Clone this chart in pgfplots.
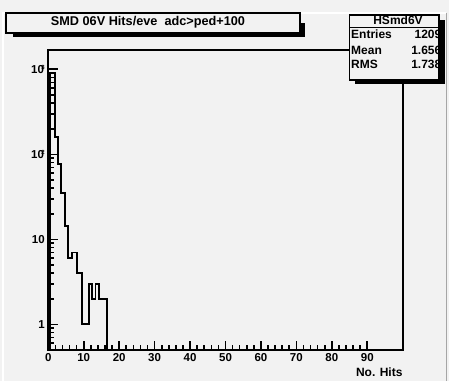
\documentclass[border=0pt]{standalone}
\usepackage{fontspec}
\setmainfont{Liberation Sans}
\usepackage{pgfplots}
\pgfplotsset{compat=1.18}
\definecolor{padgray}{RGB}{242,242,242}

% ROOT style decade label: 10 with a squeezed exponent
\newcommand{\dec}[1]{10\kern-2.5pt\raisebox{3.5pt}{\fontsize{6}{6}\selectfont #1}}

\begin{document}
\begin{tikzpicture}
  % pad
  \begin{scope}[x=1pt,y=1pt]
    \fill[padgray] (0,0) rectangle (449,381);
    \draw[white, line width=1.2pt] (3,0) -- (3,368) -- (446,368);
    \draw[gray!70, line width=1.2pt] (446.5,0) -- (446.5,368);
  \end{scope}

  \begin{axis}[
      at={(48.3pt,31pt)}, anchor=south west,
      scale only axis, width=354.4pt, height=300pt,
      ymode=log,
      xmin=0, xmax=100, ymin=0.5, ymax=1687,
      axis line style={line width=1.8pt},
      tick align=inside,
      xtick pos=bottom, ytick pos=left,
      xtick={0,10,...,90},
      xticklabels={0,10,20,30,40,50,60,70,80,90},
      minor x tick num=4,
      ytick={1,10,100,1000},
      yticklabels={1,10,\dec{2},\dec{3}},
      minor ytick={0.6,0.7,0.8,0.9,2,3,4,5,6,7,8,9,20,30,40,50,60,70,80,90,200,300,400,500,600,700,800,900},
      major tick length=9.5pt, minor tick length=5.5pt,
      tick style={black, line width=1.6pt},
      tick label style={font=\fontsize{11.5}{13}\selectfont\bfseries},
      xlabel={No. Hits},
      xlabel style={at={(axis description cs:1,0)}, anchor=north east,
        inner sep=0pt, yshift=-17.4pt, font=\fontsize{12}{14}\selectfont\bfseries},
    ]
    \addplot[black, line width=1.9pt, const plot mark left] coordinates {
        (0.48,0.1) (0.48,912) (1.88,158) (2.64,77) (3.49,35) (4.70,14.3)
        (5.54,6.1) (6.58,7) (7.99,4) (9.40,1) (11.53,3) (12.38,2)
        (13.33,3) (14.35,2) (16.6,0.1)
      };
  \end{axis}

  \begin{scope}[x=1pt,y=1pt]
    % title box
    \fill[black] (13,344.3) rectangle (305,358.3);
    \filldraw[fill=padgray, draw=black, line width=1.3pt] (6,348) rectangle (300,368);
    \node at (148,359) {\fontsize{12.7}{14}\selectfont\bfseries SMD 06V Hits/eve\ \ adc>ped+100};

    % stats box
    \fill[black] (355,297.5) rectangle (445,361);
    \filldraw[fill=padgray, draw=black, line width=1.3pt] (349.5,301) rectangle (439,366);
    \draw[line width=1.3pt] (349.5,353.3) -- (439,353.3);
    \begin{scope}
      \clip (349.5,301) rectangle (438.3,366);
      \node at (398,360.5) {\fontsize{12}{14}\selectfont\bfseries HSmd6V};
      \begin{scope}[every node/.style={font=\fontsize{12}{14}\selectfont\bfseries, inner sep=0pt}]
        \node[anchor=west] at (351,346.7) {Entries};
        \node[anchor=west] at (351,331) {Mean};
        \node[anchor=west] at (351,316.7) {RMS};
        \node[anchor=east] at (441.5,346.7) {1209};
        \node[anchor=east] at (441.5,331) {1.656};
        \node[anchor=east] at (441.5,316.7) {1.738};
      \end{scope}
    \end{scope}

    \pgfresetboundingbox
    \path[use as bounding box] (0,0) rectangle (449,381);
  \end{scope}
\end{tikzpicture}
\end{document}
